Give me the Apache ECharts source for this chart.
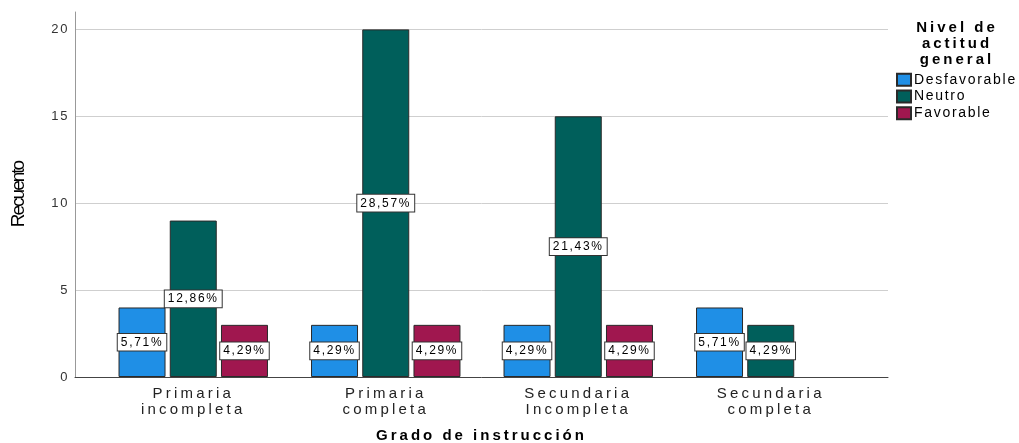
<!DOCTYPE html>
<html>
<head>
<meta charset="utf-8">
<script src="https://cdn.jsdelivr.net/npm/echarts@6/dist/echarts.min.js"></script>
<style>html,body{margin:0;padding:0;background:#fff}#c{width:1019px;height:443px}</style>
</head>
<body>
<div id="c"></div>
<script>
const categories = ['Primaria\nincompleta', 'Primaria\ncompleta', 'Secundaria\nIncompleta', 'Secundaria\ncompleta'];
const desfavorable = [4, 3, 3, 4];
const neutro = [9, 20, 15, 3];
const favorable = [3, 3, 3, null];
const desfavorablePct = ['5,71%', '4,29%', '4,29%', '5,71%'];
const neutroPct = ['12,86%', '28,57%', '21,43%', '4,29%'];
const favorablePct = ['4,29%', '4,29%', '4,29%', ''];
const yTicks = [0, 5, 10, 15, 20];

// The reference (SPSS output) draws its text horizontally stretched;
// emulate that with canvas letter spacing keyed on font size/weight.
(function () {
  const proto = CanvasRenderingContext2D.prototype;
  const desc = Object.getOwnPropertyDescriptor(proto, 'font');
  if (!desc || !('letterSpacing' in proto)) return;
  function spacingFor(f) {
    const m = /(\d+(?:\.\d+)?)px/.exec(f || '');
    if (!m) return '0px';
    const size = +m[1];
    const bold = /bold|700/.test(f);
    if (size === 15) return bold ? '3px' : '3.2px';
    if (size === 14) return '1.7px';
    if (size === 13) return '1.6px';
    if (size === 12) return '1.7px';
    if (size === 19) return '-2px';
    return '0px';
  }
  Object.defineProperty(proto, 'font', {
    configurable: true,
    get() { return desc.get.call(this); },
    set(v) { desc.set.call(this, v); try { this.letterSpacing = spacingFor(v); } catch (e) {} }
  });
})();

const FONT = "'Liberation Sans', Arial, sans-serif";
const chart = echarts.init(document.getElementById('c'), null, {renderer: 'canvas'});

function mkLabel(pcts) {
  return {
    show: true,
    position: 'inside',
    formatter: p => pcts[p.dataIndex],
    color: '#000',
    fontFamily: FONT,
    fontSize: 12,
    backgroundColor: '#fff',
    borderColor: '#333',
    borderWidth: 1,
    padding: [2, 3, 1, 3]
  };
}
function mkSeries(name, data, pcts, color) {
  return {
    name, type: 'bar', xAxisIndex: 1, yAxisIndex: 1,
    data, barWidth: 47, barGap: '9%', barCategoryGap: '22%',
    itemStyle: {color, borderColor: '#2a2a2a', borderWidth: 1},
    label: mkLabel(pcts),
    emphasis: {disabled: true}
  };
}

chart.setOption({
  animation: false,
  title: {
    text: 'Nivel de\nactitud\ngeneral',
    left: 952, top: 15, textAlign: 'center',
    textStyle: {fontFamily: FONT, fontSize: 15, fontWeight: 'bold', lineHeight: 16, color: '#000'}
  },
  legend: {
    orient: 'vertical', left: 891, top: 67, itemGap: 1,
    itemWidth: 14, itemHeight: 12,
    icon: 'rect',
    textStyle: {fontFamily: FONT, fontSize: 14, lineHeight: 14, color: '#000', padding: [0,0,0,-2]},
    data: ['Desfavorable', 'Neutro', 'Favorable']
  },
  grid: [
    {left: 75, right: 131, top: 12, bottom: 66, containLabel: false, outerBoundsMode: 'none'},
    {left: 97, right: 152, top: 12, bottom: 66, containLabel: false, outerBoundsMode: 'none'}
  ],
  xAxis: [
    {type: 'value', gridIndex: 0, min: 0, max: 1,
     axisLine: {show: true, lineStyle: {color: '#444', width: 1}},
     axisTick: {show: false}, axisLabel: {show: false}, splitLine: {show: false},
     name: 'Grado de instrucción', nameLocation: 'middle', nameGap: 50,
     nameTextStyle: {fontFamily: FONT, fontSize: 15, fontWeight: 'bold', color: '#000'}},
    {type: 'category', gridIndex: 1, data: categories,
     axisLine: {show: false}, axisTick: {show: false},
     axisLabel: {fontFamily: FONT, fontSize: 15, color: '#222', lineHeight: 16, margin: 9, interval: 0}}
  ],
  yAxis: [
    {type: 'value', gridIndex: 0, min: 0, max: 21, interval: 5,
     axisLine: {show: true, lineStyle: {color: '#999'}},
     axisTick: {show: false},
     axisLabel: {fontFamily: FONT, fontSize: 13, color: '#333', margin: 6,
       formatter: v => yTicks.includes(v) ? String(v) : ''},
     splitLine: {show: true, showMaxLine: false, lineStyle: {color: '#cfcfcf', width: 1}},
     name: 'Recuento', nameLocation: 'middle', nameGap: 48, nameRotate: 90,
     nameTextStyle: {fontFamily: FONT, fontSize: 19, color: '#000', padding: [0, 0, 0, 0]}},
    {type: 'value', gridIndex: 1, min: 0, max: 21, interval: 5, show: false}
  ],
  series: [
    mkSeries('Desfavorable', desfavorable, desfavorablePct, '#1f8fe6'),
    mkSeries('Neutro', neutro, neutroPct, '#005f5b'),
    mkSeries('Favorable', favorable, favorablePct, '#a0174f')
  ]
});
</script>
</body>
</html>
